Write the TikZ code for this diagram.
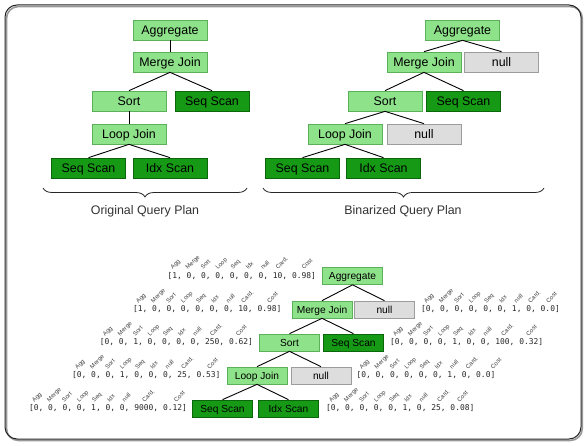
\documentclass[tikz,border=0pt]{standalone}
\usepackage{fontspec}
\usepackage{graphicx}
\setmainfont{Liberation Sans}
\newfontfamily\vecfont{DejaVu Sans Mono}
\usetikzlibrary{decorations.pathreplacing,calc}
\definecolor{lg}{HTML}{8EE28A}
\definecolor{lgb}{HTML}{5DB05A}
\definecolor{dg}{HTML}{169A16}
\definecolor{dgb}{HTML}{0B650B}
\definecolor{gy}{HTML}{DDDDDD}
\definecolor{gyb}{HTML}{9C9C9C}
\newcommand\qvec[6]{%
  \node[vec, anchor=#2] (#1) at (#3) {#4};
  \foreach \o/\t [count=\k] in {2/Agg,17/Merge,32/Sort,47/Loop,62/Seq,77/Idx,92/null,#5/Card.,#6/Cost}
    \node[lab] (#1l\k) at ($(#1.north west)+(\o,-2.5)$) {\rlap{\rotatebox{45}{\t}}};
}
\begin{document}
\begin{tikzpicture}[x=1pt,y=-1pt,
  box/.style={draw, line width=0.7pt, minimum width=74pt, minimum height=20pt, inner sep=0pt,
    text height=8.9pt, text depth=0pt, font=\fontsize{12.4}{14}\selectfont},
  sbox/.style={box, minimum width=60pt, minimum height=17pt, text height=7.3pt,
    font=\fontsize{10.2}{12}\selectfont},
  lgn/.style={fill=lg, draw=lgb},
  dgn/.style={fill=dg, draw=dgb},
  nul/.style={fill=gy, draw=gyb},
  edge/.style={line width=0.9pt},
  vec/.style={inner sep=0pt, text=black!85, font={\vecfont\fontsize{7.95}{9}\selectfont}},
  lab/.style={inner sep=0pt, anchor=base west, text=black!75, font=\fontsize{6}{7}\selectfont},
  captxt/.style={inner sep=0pt, text=black!80, font=\fontsize{12.4}{14}\selectfont},
  brc/.style={decorate, decoration={brace, mirror, amplitude=9pt}, line width=0.8pt, black!85}]
\fill[white] (0,0) rectangle (586,446);
\useasboundingbox (0,0) rectangle (586,446);
% frame
\draw[rounded corners=12pt, line width=1.6pt, black!40] (6.5,6.5) rectangle (582.3,440.5);
\draw[rounded corners=12pt, line width=1pt, black!85] (5,5) rectangle (581,439);

% ---------- original plan ----------
\node[box,lgn] (a1) at (170,30) {Aggregate};
\node[box,lgn] (m1) at (170,62) {Merge Join};
\node[box,lgn] (s1) at (129,101) {Sort};
\node[box,dgn] (q1) at (212,101) {Seq Scan};
\node[box,lgn] (l1) at (129,134) {Loop Join};
\node[box,dgn] (q1b) at (88.5,168) {Seq Scan};
\node[box,dgn] (i1) at (170,168) {Idx Scan};
\draw[edge] (a1.south) -- (m1.north);
\draw[edge] (m1.south) -- (s1.north);
\draw[edge] (m1.south) -- (q1.north);
\draw[edge] (s1.south) -- (l1.north);
\draw[edge] (l1.south) -- (q1b.north);
\draw[edge] (l1.south) -- (i1.north);
\coordinate (b1s) at (43,188);
\coordinate (b1e) at (247,188);
\draw[brc] (b1s) -- (b1e);
\node[captxt] (c1) at (145,211.5) {Original Query Plan};

% ---------- binarized plan ----------
\node[box,lgn] (a2) at (462.5,30) {Aggregate};
\node[box,lgn] (m2) at (424,62) {Merge Join};
\node[box,nul] (n2) at (501.5,62) {null};
\node[box,lgn] (s2) at (385,101) {Sort};
\node[box,dgn] (q2) at (463.5,101) {Seq Scan};
\node[box,lgn] (l2) at (345,134) {Loop Join};
\node[box,nul] (n2b) at (424,134) {null};
\node[box,dgn] (q2b) at (302.5,168) {Seq Scan};
\node[box,dgn] (i2) at (383.5,168) {Idx Scan};
\draw[edge] (a2.south) -- (m2.north);
\draw[edge] (a2.south) -- (n2.north);
\draw[edge] (m2.south) -- (s2.north);
\draw[edge] (m2.south) -- (q2.north);
\draw[edge] (s2.south) -- (l2.north);
\draw[edge] (s2.south) -- (n2b.north);
\draw[edge] (l2.south) -- (q2b.north);
\draw[edge] (l2.south) -- (i2.north);
\coordinate (b2s) at (263,188);
\coordinate (b2e) at (544,188);
\draw[brc] (b2s) -- (b2e);
\node[captxt] (c2) at (403,211.5) {Binarized Query Plan};

% ---------- vectorized plan ----------
\node[sbox,lgn] (a3) at (352.5,276) {Aggregate};
\node[sbox,lgn] (m3) at (322,309.5) {Merge Join};
\node[sbox,nul] (n3) at (384.5,309.5) {null};
\node[sbox,lgn] (s3) at (289.5,342.5) {Sort};
\node[sbox,dgn] (q3) at (353.5,342.5) {Seq Scan};
\node[sbox,lgn] (l3) at (257,375.5) {Loop Join};
\node[sbox,nul] (n3b) at (321,375.5) {null};
\node[sbox,dgn] (q3b) at (222.5,408.5) {Seq Scan};
\node[sbox,dgn] (i3) at (288.5,408.5) {Idx Scan};
\draw[edge] (a3.south) -- (m3.north);
\draw[edge] (a3.south) -- (n3.north);
\draw[edge] (m3.south) -- (s3.north);
\draw[edge] (m3.south) -- (q3.north);
\draw[edge] (s3.south) -- (l3.north);
\draw[edge] (s3.south) -- (n3b.north);
\draw[edge] (l3.south) -- (q3b.north);
\draw[edge] (l3.south) -- (i3.north);

\qvec{v1}{east}{$(a3.west)+(-6,0)$}{[1, 0, 0, 0, 0, 0, 0, 10, 0.98]}{107}{133}
\qvec{v2}{east}{$(m3.west)+(-10,0)$}{[1, 0, 0, 0, 0, 0, 0, 10, 0.98]}{107}{133}
\qvec{v3}{east}{$(s3.west)+(-6,0)$}{[0, 0, 1, 0, 0, 0, 0, 250, 0.62]}{109}{135}
\qvec{v4}{east}{$(l3.west)+(-6,0)$}{[0, 0, 0, 1, 0, 0, 0, 25, 0.53]}{108}{134}
\qvec{v5}{east}{$(q3b.west)+(-5,0)$}{[0, 0, 0, 0, 1, 0, 0, 9000, 0.12]}{112}{144}
\qvec{v6}{west}{$(n3.east)+(6,0)$}{[0, 0, 0, 0, 0, 0, 1, 0, 0.0]}{106}{124}
\qvec{v7}{west}{$(q3.east)+(6,0)$}{[0, 0, 0, 0, 1, 0, 0, 100, 0.32]}{110}{135}
\qvec{v8}{west}{$(n3b.east)+(5,0)$}{[0, 0, 0, 0, 0, 0, 1, 0, 0.0]}{108}{133}
\qvec{v9}{west}{$(i3.east)+(7,0)$}{[0, 0, 0, 0, 0, 1, 0, 25, 0.08]}{110}{130}
\end{tikzpicture}
\end{document}
